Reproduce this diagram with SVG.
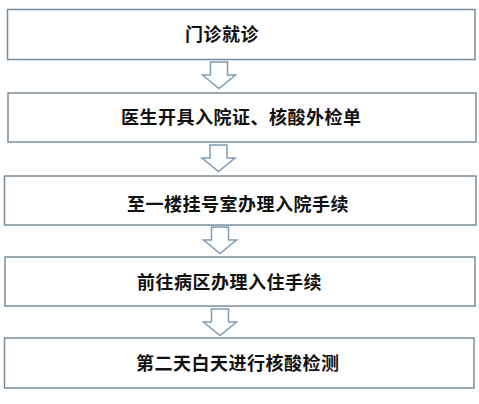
<svg xmlns="http://www.w3.org/2000/svg" width="479" height="404" viewBox="0 0 479 404">
<style>
.box{fill:#ffffff;stroke:#7a8c9c;stroke-width:1.5}
.arr{fill:#ffffff;stroke:#7f9bb6;stroke-width:1.5;stroke-linejoin:miter}
.t{font-family:"Noto Sans CJK SC","Noto Sans",sans-serif;font-weight:bold;font-size:18px;fill:#111111;letter-spacing:0.5px}
</style>
<defs>
<path id="down" d="M -8.5 0 H 8.5 V 13 H 16.5 L 0 26.5 L -16.5 13 H -8.5 Z"/>
</defs>
<rect x="0" y="0" width="479" height="404" fill="#ffffff"/>
<g id="connectors">
<use href="#down" class="arr" transform="translate(219,62)"/>
<use href="#down" class="arr" transform="translate(218.5,145)"/>
<use href="#down" class="arr" transform="translate(220,227)"/>
<use href="#down" class="arr" transform="translate(220,309)"/>
</g>
<g id="node1">
<rect class="box" x="7.5" y="9.5" width="467.5" height="50"/>
<text class="t" x="185" y="40.5">门诊就诊</text>
</g>
<g id="node2">
<rect class="box" x="8" y="93" width="468" height="49"/>
<text class="t" x="121" y="124">医生开具入院证、核酸外检单</text>
</g>
<g id="node3">
<rect class="box" x="4.5" y="176" width="471.5" height="49"/>
<text class="t" x="127" y="210.5">至一楼挂号室办理入院手续</text>
</g>
<g id="node4">
<rect class="box" x="5" y="257" width="470" height="49"/>
<text class="t" x="137" y="288.5">前往病区办理入住手续</text>
</g>
<g id="node5">
<rect class="box" x="4.5" y="338" width="469.5" height="50"/>
<text class="t" x="136" y="370">第二天白天进行核酸检测</text>
</g>
</svg>
